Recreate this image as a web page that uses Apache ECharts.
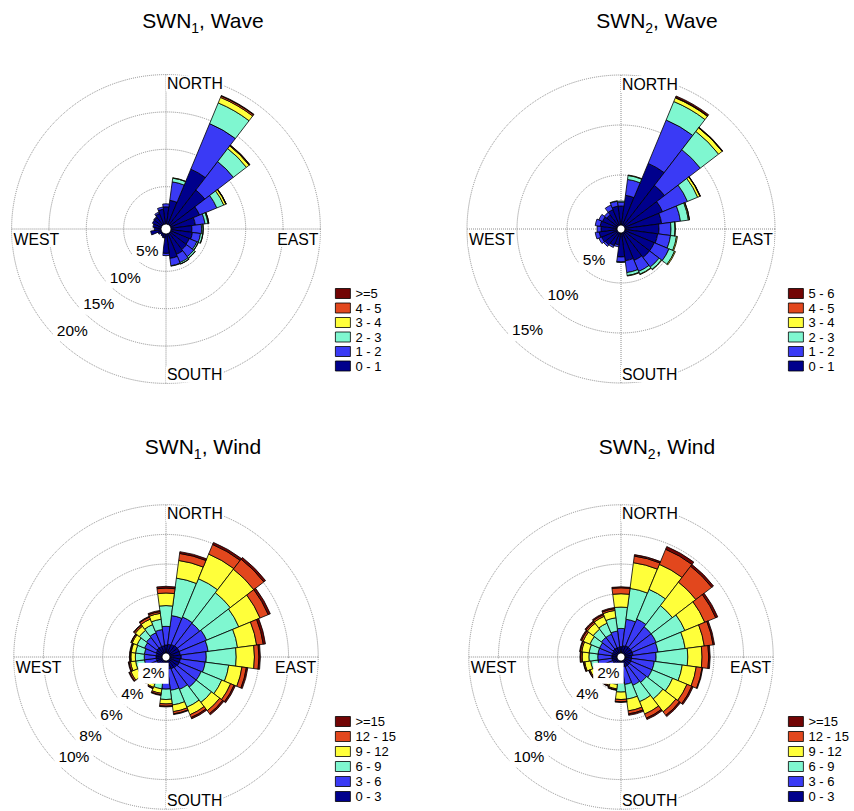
<!DOCTYPE html>
<html><head><meta charset="utf-8">
<script src="https://cdn.jsdelivr.net/npm/echarts@6/dist/echarts.min.js"></script>
<style>html,body{margin:0;padding:0;background:#fff}#c{width:854px;height:811px}</style>
</head><body><div id="c"></div>
<script>
// ---------- data ----------
const directions = ['0','15','30','45','60','75','90','105','120','135','150','165','180','195','210','225','240','255','270','285','300','315','330','345'];
const compassLabels = ['NORTH','EAST','SOUTH','WEST'];

const waveLabels1 = ['0 - 1','1 - 2','2 - 3','3 - 4','4 - 5','>=5'];
const waveLabels2 = ['0 - 1','1 - 2','2 - 3','3 - 4','4 - 5','5 - 6'];
const windLabels  = ['0 - 3','3 - 6','6 - 9','9 - 12','12 - 15','>=15'];

const wave1Ticks = [5,10,15,20];
const wave2Ticks = [5,10,15];
const windTicks  = [2,4,6,8,10];

// SWN1 wave (% per direction, per height class)
const wave1_0_1 = [2.3,3.2,8.0,5.9,4.2,3.3,2.8,2.9,2.7,2.8,3.0,3.3,2.6,0.5,0.4,0.3,0.5,1.4,0.9,1.1,1.3,1.3,1.6,2.0];
const wave1_1_2 = [0.4,2.5,6.6,4.8,2.5,1.3,1.3,1.1,1.1,1.2,1.2,1.0,0.3,0.05,0,0,0,0,0,0,0,0.1,0.2,0.3];
const wave1_2_3 = [0,0.5,3.0,2.2,1.0,0.4,0.2,0.3,0.2,0.25,0.2,0.05,0,0,0,0,0,0,0,0,0,0,0,0];
const wave1_3_4 = [0,0.05,0.8,0.45,0.3,0.1,0.03,0.03,0.02,0.03,0.02,0,0,0,0,0,0,0,0,0,0,0,0,0];
const wave1_4_5 = [0,0,0.2,0.1,0.05,0.02,0,0,0,0,0,0,0,0,0,0,0,0,0,0,0,0,0,0];
const wave1_5p  = [0,0,0.08,0.05,0.02,0,0,0,0,0,0,0,0,0,0,0,0,0,0,0,0,0,0,0];

// SWN2 wave
const wave2_0_1 = [1.9,3.0,6.7,5.1,4.1,3.7,3.4,3.3,3.2,3.2,3.0,2.8,2.4,1.2,1.4,1.6,1.7,1.8,1.6,1.7,1.6,1.4,1.7,1.9];
const wave2_1_2 = [0.4,1.6,4.7,4.5,2.7,1.9,1.2,1.3,1.6,1.2,1.2,1.2,0.5,0.2,0.2,0.2,0.3,0.4,0.4,0.5,0.4,0.3,0.5,0.5];
const wave2_2_3 = [0.1,0.4,2.0,2.3,1.1,0.8,0.4,0.6,0.6,0.3,0.3,0.3,0.05,0,0,0,0,0,0,0,0,0,0,0.05];
const wave2_3_4 = [0,0.05,0.4,0.45,0.25,0.1,0.05,0.1,0.1,0.05,0.05,0.05,0,0,0,0,0,0,0,0,0,0,0,0];
const wave2_4_5 = [0,0,0.05,0.03,0.02,0.02,0,0,0,0,0,0,0,0,0,0,0,0,0,0,0,0,0,0];
const wave2_5_6 = [0,0,0.15,0.05,0.03,0,0,0,0,0,0,0,0,0,0,0,0,0,0,0,0,0,0,0];

// SWN1 wind
const wind1_0_3   = [0.54,0.60,0.65,0.70,0.70,0.70,0.76,0.70,0.70,0.65,0.60,0.55,0.50,0.45,0.40,0.40,0.40,0.40,0.40,0.40,0.45,0.50,0.50,0.50];
const wind1_3_6   = [1.26,1.95,2.00,1.90,2.00,1.90,1.69,1.70,1.60,1.65,1.50,1.45,1.40,1.05,0.90,0.80,0.80,0.80,0.80,0.80,0.85,0.90,1.00,1.10];
const wind1_6_9   = [1.40,2.55,2.80,2.60,2.35,2.00,2.02,1.60,1.50,1.30,1.30,1.00,0.70,0.40,0.40,0.40,0.60,0.60,0.60,0.60,0.55,0.60,0.60,0.70];
const wind1_9_12  = [0.85,1.20,1.80,2.00,1.55,1.30,1.23,0.90,0.65,0.70,0.55,0.45,0.30,0.30,0.25,0.25,0.50,0.35,0.30,0.30,0.35,0.35,0.40,0.40];
const wind1_12_15 = [0.33,0.48,0.70,0.85,0.60,0.45,0.30,0.30,0.25,0.25,0.20,0.15,0.15,0.10,0.07,0.05,0.10,0.10,0.05,0.05,0.08,0.10,0.15,0.12];
const wind1_15p   = [0.12,0.12,0.15,0.15,0.15,0.15,0.10,0.10,0.10,0.10,0.10,0.05,0.05,0.05,0.03,0.05,0.05,0.05,0.05,0.05,0.02,0.05,0.05,0.08];

// SWN2 wind
const wind2_0_3   = [0.43,0.50,0.55,0.55,0.55,0.55,0.45,0.45,0.45,0.45,0.45,0.40,0.40,0.35,0.35,0.35,0.35,0.35,0.35,0.35,0.35,0.40,0.40,0.40];
const wind2_3_6   = [1.23,1.80,1.95,1.75,1.75,1.70,1.65,1.55,1.55,1.45,1.35,1.20,1.10,0.85,0.75,0.75,0.85,0.95,0.95,0.95,0.95,1.00,1.00,1.10];
const wind2_6_9   = [1.44,2.10,2.17,1.80,2.10,1.85,2.14,1.90,1.50,1.40,1.20,1.00,0.60,0.40,0.40,0.40,0.50,0.50,0.60,0.60,0.70,0.70,0.80,0.90];
const wind2_9_12  = [0.90,1.75,1.83,2.00,1.45,1.30,0.96,0.95,1.05,1.10,0.90,0.80,0.50,0.30,0.30,0.30,0.30,0.40,0.45,0.50,0.50,0.50,0.50,0.50];
const wind2_12_15 = [0.40,0.45,1.10,1.35,0.80,0.60,0.45,0.40,0.35,0.30,0.30,0.20,0.15,0.07,0.07,0.07,0.07,0.07,0.10,0.10,0.12,0.12,0.12,0.12];
const wind2_15p   = [0.07,0.10,0.20,0.15,0.15,0.10,0.10,0.05,0.10,0.10,0.10,0.10,0.05,0.03,0.03,0.03,0.03,0.03,0.05,0.05,0.08,0.08,0.08,0.08];

// ---------- style / layout ----------
const colors = ['#00008c','#3a3af5','#7ff7d0','#ffff3a','#e2471d','#720404'];
const FONT = '"Liberation Sans", Arial, Helvetica, sans-serif';
const GRID_LINE = {color:'#8c8c8c', type:'dotted', width:1};

const panels = [
  {center:[166,229], radius:[5,154.4], max:20, step:5, ticks:wave1Ticks,
   layers:[wave1_0_1,wave1_1_2,wave1_2_3,wave1_3_4,wave1_4_5,wave1_5p], names:waveLabels1,
   title:['SWN','1',', Wave'], titlePos:[203,20], legendPos:[335,287], legendGap:1.5},
  {center:[621,229], radius:[4,154], max:15, step:5, ticks:wave2Ticks,
   layers:[wave2_0_1,wave2_1_2,wave2_2_3,wave2_3_4,wave2_4_5,wave2_5_6], names:waveLabels2,
   title:['SWN','2',', Wave'], titlePos:[657,20], legendPos:[788,287], legendGap:1.5},
  {center:[166,657], radius:[4,152.2], max:10, step:2, ticks:windTicks,
   layers:[wind1_0_3,wind1_3_6,wind1_6_9,wind1_9_12,wind1_12_15,wind1_15p], names:windLabels,
   title:['SWN','1',', Wind'], titlePos:[203,446], legendPos:[335,715], legendGap:2},
  {center:[621,657], radius:[4,152.2], max:10, step:2, ticks:windTicks,
   layers:[wind2_0_3,wind2_3_6,wind2_6_9,wind2_9_12,wind2_12_15,wind2_15p], names:windLabels,
   title:['SWN','2',', Wind'], titlePos:[657,446], legendPos:[788,715], legendGap:2}
];

const chart = echarts.init(document.getElementById('c'), null, {renderer:'svg', width:854, height:811});

const option = {backgroundColor:'#fff', animation:false, polar:[], angleAxis:[], radiusAxis:[], series:[], legend:[]};
const hidden = {axisLine:{show:false}, axisTick:{show:false}, axisLabel:{show:false}, splitLine:{show:false}};

panels.forEach((p,k)=>{
  option.polar.push({center:p.center, radius:p.radius});
  option.polar.push({center:p.center, radius:p.radius});
  option.angleAxis.push({polarIndex:2*k, type:'value', min:0, max:360, interval:90, startAngle:90, clockwise:true,
    axisLine:{show:false}, axisTick:{show:false}, axisLabel:{show:false}, splitLine:{show:true, lineStyle:GRID_LINE}});
  option.radiusAxis.push({polarIndex:2*k, type:'value', min:0, max:p.max, interval:p.step,
    axisLine:{show:false}, axisTick:{show:false}, axisLabel:{show:false}, splitLine:{show:true, lineStyle:GRID_LINE}});
  option.angleAxis.push(Object.assign({polarIndex:2*k+1, type:'category', data:directions, startAngle:97.5, clockwise:true, boundaryGap:true}, hidden));
  option.radiusAxis.push(Object.assign({polarIndex:2*k+1, type:'value', min:0, max:p.max}, hidden));
  p.layers.forEach((arr,j)=>{
    option.series.push({type:'bar', coordinateSystem:'polar', polarIndex:2*k+1, stack:'s'+k, name:p.names[j],
      data:arr.map(v=>v>0?v:null), barCategoryGap:'0%', barGap:'0%', silent:true,
      itemStyle:{color:colors[j], borderColor:'#000', borderWidth:0.8}, emphasis:{disabled:true}});
  });
  option.legend.push({orient:'vertical', left:p.legendPos[0], top:p.legendPos[1], padding:0, itemGap:p.legendGap,
    itemWidth:15, itemHeight:10, icon:'rect', selectedMode:false,
    itemStyle:{borderColor:'#000', borderWidth:0.8},
    textStyle:{fontSize:13, fontFamily:FONT, color:'#000'},
    data:p.names.slice().reverse()});
});

chart.setOption(option);

// ---------- texts placed through each polar's own scale ----------
const elements = [];
panels.forEach((p,k)=>{
  const toPx = (r,a)=> chart.convertToPixel({polarIndex:2*k}, [r,a]);
  elements.push({type:'text', x:p.titlePos[0], y:p.titlePos[1], z:100, silent:true,
    style:{text:'{m|'+p.title[0]+'}{s|'+p.title[1]+'}{m|'+p.title[2]+'}', align:'center', verticalAlign:'middle',
      rich:{m:{fontSize:21, fontFamily:FONT, fill:'#000'}, s:{fontSize:14, fontFamily:FONT, fill:'#000', padding:[15,0,0,0]}}}});
  const n = toPx(p.max,0), e = toPx(p.max,90), s = toPx(p.max,180), w = toPx(p.max,270);
  const cs = {fontSize:15.8, fontFamily:FONT, fill:'#000', backgroundColor:'#fff', padding:[0,1,0,1]};
  elements.push({type:'text', x:n[0], y:n[1]+1, z:100, silent:true, style:Object.assign({text:compassLabels[0], align:'left', verticalAlign:'top'}, cs)});
  elements.push({type:'text', x:e[0]-1, y:e[1]+2, z:100, silent:true, style:Object.assign({text:compassLabels[1], align:'right', verticalAlign:'top'}, cs)});
  elements.push({type:'text', x:s[0], y:s[1]-1, z:100, silent:true, style:Object.assign({text:compassLabels[2], align:'left', verticalAlign:'bottom'}, cs)});
  elements.push({type:'text', x:w[0]+1, y:w[1]+2, z:100, silent:true, style:Object.assign({text:compassLabels[3], align:'left', verticalAlign:'top'}, cs)});
  p.ticks.forEach(t=>{
    const q = toPx(t,225);
    elements.push({type:'text', x:q[0]-4, y:q[1]+3, z:100, silent:true,
      style:{text:t+'%', align:'left', verticalAlign:'bottom', fontSize:15.5, fontFamily:FONT, fill:'#000',
        backgroundColor:'#fff', padding:[2,4,3,4]}});
  });
});
chart.setOption({graphic:{elements:elements}});
</script>
</body></html>
